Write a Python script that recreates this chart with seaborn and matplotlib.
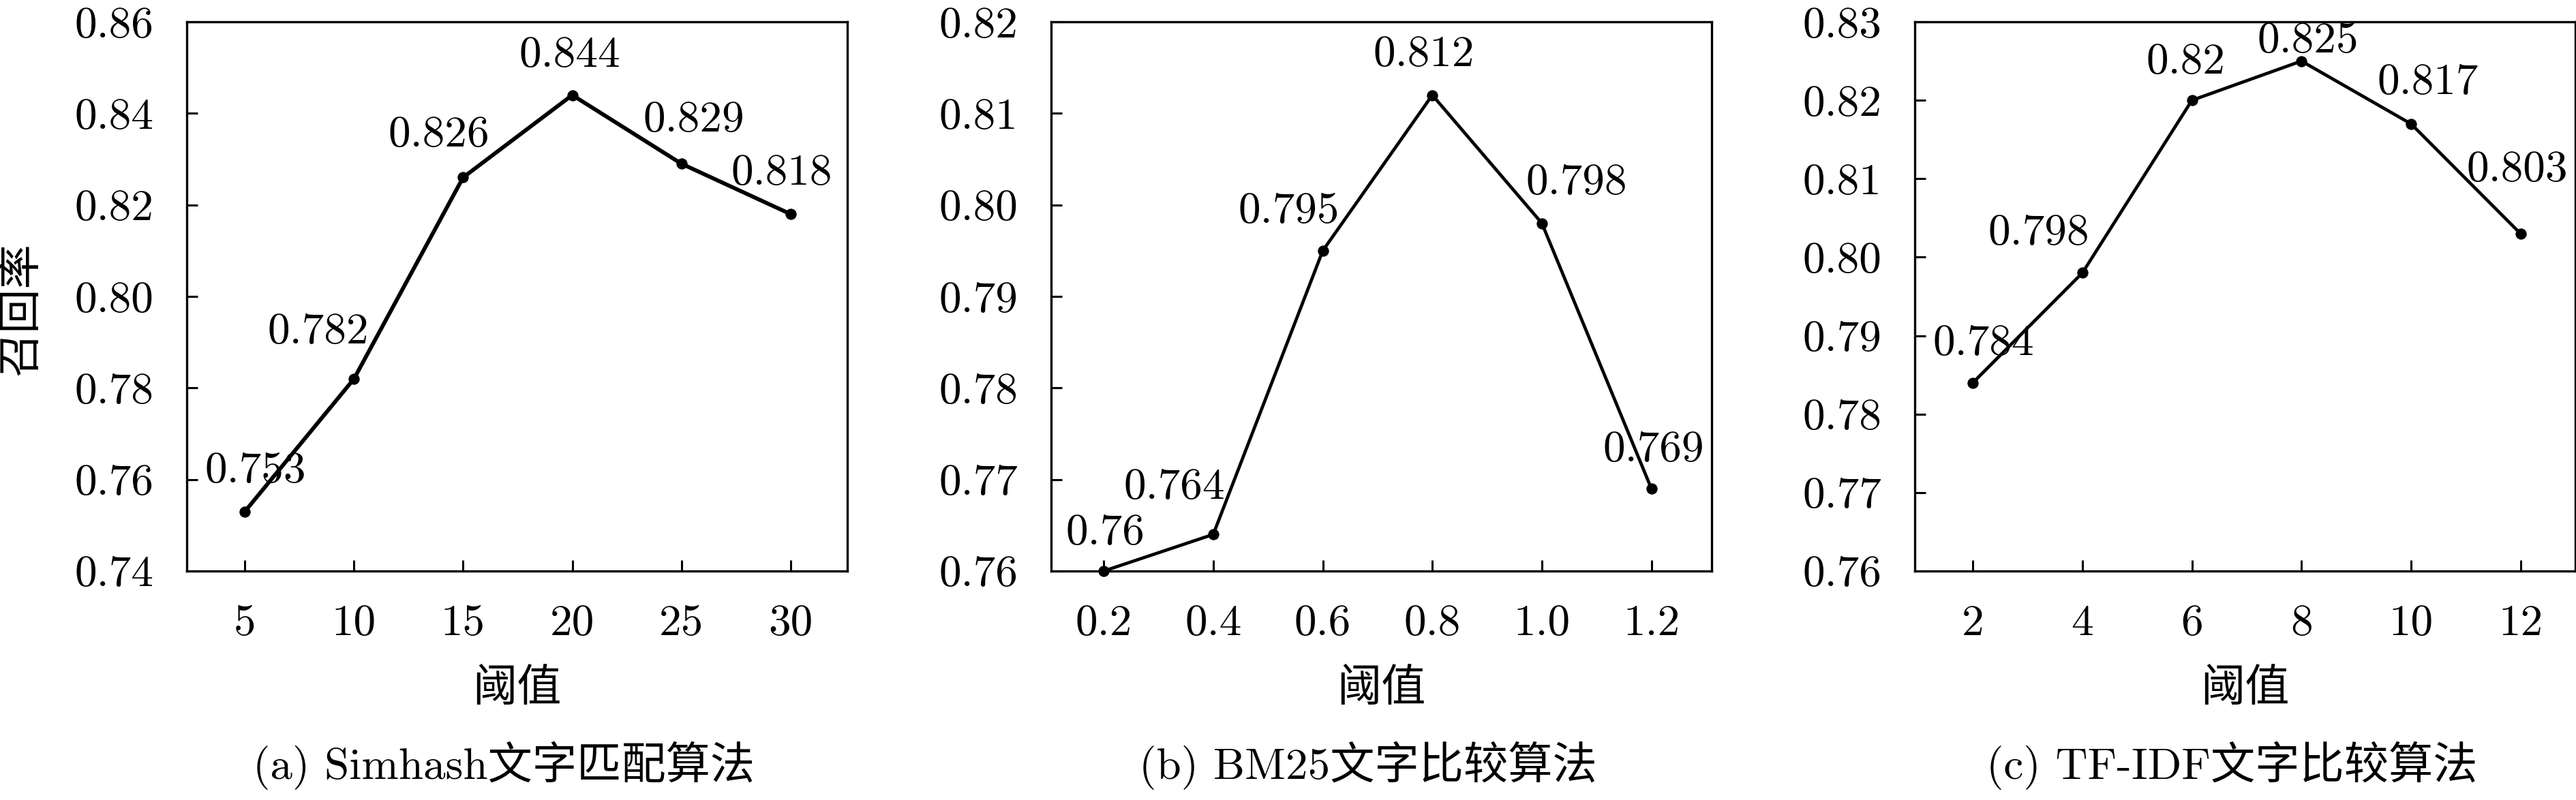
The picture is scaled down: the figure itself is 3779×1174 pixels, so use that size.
import seaborn as sns
import matplotlib.pyplot as plt
import pandas as pd

sns.set_theme(style='ticks', rc={'axes.edgecolor': 'black', 'text.color': 'black',
                                 'axes.labelcolor': 'black', 'xtick.color': 'black',
                                 'ytick.color': 'black'})
# Computer Modern for latin text, CJK font for the Chinese glyphs
plt.rcParams['font.family'] = ['cmr10', 'Noto Sans CJK SC']
plt.rcParams['axes.formatter.use_mathtext'] = True
plt.rcParams['axes.unicode_minus'] = False

# ---- data ----
simhash_x = [5, 10, 15, 20, 25, 30]
simhash_y = [0.753, 0.782, 0.826, 0.844, 0.829, 0.818]
bm25_x = [0.2, 0.4, 0.6, 0.8, 1.0, 1.2]
bm25_y = [0.760, 0.764, 0.795, 0.812, 0.798, 0.769]
tfidf_x = [2, 4, 6, 8, 10, 12]
tfidf_y = [0.784, 0.798, 0.820, 0.825, 0.817, 0.803]

simhash_xticklabels = ['5', '10', '15', '20', '25', '30']
bm25_xticklabels = ['0.2', '0.4', '0.6', '0.8', '1.0', '1.2']
tfidf_xticklabels = ['2', '4', '6', '8', '10', '12']
simhash_yticks = [0.74, 0.76, 0.78, 0.80, 0.82, 0.84, 0.86]
bm25_yticks = [0.76, 0.77, 0.78, 0.79, 0.80, 0.81, 0.82]
tfidf_yticks = [0.76, 0.77, 0.78, 0.79, 0.80, 0.81, 0.82, 0.83]

captions = ['(a) Simhash文字匹配算法', '(b) BM25文字比较算法', '(c) TF-IDF文字比较算法']
xlabel = '阈值'
ylabel = '召回率'

# label offsets in pixels (dx, dy), picked by eye so the numbers don't collide
simhash_offsets = [(16, 43), (-52, 52), (-36, 45), (-4, 42), (18, 47), (-13, 43)]
bm25_offsets = [(2, 39), (-57, 52), (-50, 41), (-12, 43), (51, 43), (3, 40)]
tfidf_offsets = [(16, 41), (-64, 41), (-9, 39), (10, 13), (25, 44), (-5, 77)]

FS = 47

fig = plt.figure(figsize=(37.8, 11.74), dpi=100)
lefts = [274 / 3780, 1542 / 3780, 2809 / 3780]
width = 969 / 3780
bottom, height = 0.2862, 0.6865
line_widths = [4.2, 3.4, 3.4]

panels = [
    (simhash_x, simhash_y, simhash_xticklabels, simhash_yticks, simhash_offsets, (2.34, 32.6)),
    (bm25_x, bm25_y, bm25_xticklabels, bm25_yticks, bm25_offsets, (0.104, 1.31)),
    (tfidf_x, tfidf_y, tfidf_xticklabels, tfidf_yticks, tfidf_offsets, (0.94, 13.0)),
]

for i, (xs, ys, xtl, yt, offs, xlim) in enumerate(panels):
    ax = fig.add_axes([lefts[i], bottom, width, height])
    df = pd.DataFrame({'x': xs, 'y': ys})
    sns.lineplot(data=df, x='x', y='y', ax=ax, color='black', linewidth=line_widths[i],
                 marker='o', markersize=11, markeredgecolor='black', clip_on=False)
    for xv, yv, (dx, dy) in zip(xs, ys, offs):
        ax.annotate(f'{yv:g}', xy=(xv, yv), xytext=(dx, dy), textcoords='offset pixels',
                    ha='center', va='baseline', fontsize=FS)
    ax.set_xlim(*xlim)
    ax.set_ylim(yt[0], yt[-1])
    ax.set_xticks(xs)
    ax.set_xticklabels(xtl)
    ax.set_yticks(yt)
    ax.set_yticklabels([f'{v:.2f}' for v in yt])
    ax.tick_params(direction='in', length=11.5, width=2.2, labelsize=FS, pad=35,
                   top=False, right=False)
    for sp in ax.spines.values():
        sp.set_linewidth(2.4)
        sp.set_color('black')
    ax.set_xlabel(xlabel, fontsize=FS)
    ax.xaxis.set_label_coords(0.5, -0.216)
    ax.xaxis.label.set_va('center')
    if i == 0:
        ax.set_ylabel(ylabel, fontsize=FS)
        ax.yaxis.set_label_coords(-0.218, 0.478)
    else:
        ax.set_ylabel('')
    ax.text(0.48, -0.354, captions[i], transform=ax.transAxes, ha='center', va='center',
            fontsize=FS)

fig.savefig('out.png', dpi=100)
